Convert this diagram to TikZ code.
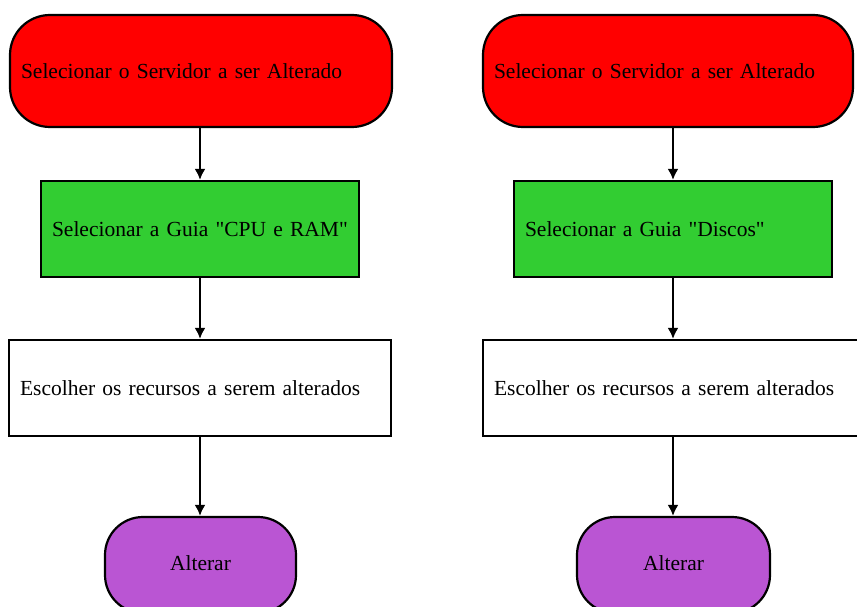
\documentclass[tikz,border=0pt]{standalone}
\usepackage{fontspec}
\newfontfamily\boxfont{Liberation Serif}
\usetikzlibrary{arrows.meta}
\definecolor{boxred}{HTML}{FF0000}
\definecolor{boxgreen}{HTML}{32CD32}
\definecolor{boxpurple}{HTML}{BA55D3}
\tikzset{
  basebox/.style={draw=black, line width=2.2pt, font=\boxfont\fontsize{21.5}{24}\selectfont, inner ysep=0pt},
  startbox/.style={basebox, fill=boxred, rounded corners=40pt, minimum height=112pt, text width=#1, align=left},
  guidebox/.style={basebox, fill=boxgreen, minimum height=96pt, text width=#1, align=left},
  choosebox/.style={basebox, fill=white, minimum height=96pt, text width=#1, align=left},
  endbox/.style={basebox, fill=boxpurple, rounded corners=38pt, minimum height=96pt, minimum width=#1, align=center},
  flow/.style={draw=black, line width=2.2pt, -{Latex[length=11pt,width=11pt]}}
}
\begin{document}
\begin{tikzpicture}[x=1pt,y=-1pt]
\useasboundingbox (0,0) rectangle (857,607);
\clip (0,0) rectangle (857,607);
% left column
\node[startbox=360pt, inner xsep=11pt] (r1) at (201,71) {Selecionar o Servidor a ser Alterado};
\node[guidebox=296pt, inner xsep=11pt] (g1) at (200,229) {\mbox{Selecionar a Guia "CPU e RAM"}};
\node[choosebox=360pt, inner xsep=11pt] (w1) at (200,388) {Escolher os recursos a serem alterados};
\node[endbox=191pt] (p1) at (200.5,565) {\raisebox{3pt}{Alterar}};
% right column
\node[startbox=348pt, inner xsep=11pt] (r2) at (668,71) {Selecionar o Servidor a ser Alterado};
\node[guidebox=296pt, inner xsep=11pt] (g2) at (673,229) {\mbox{Selecionar a Guia "Discos"}};
\node[choosebox=360pt, inner xsep=11pt] (w2) at (674,388) {Escolher os recursos a serem alterados};
\node[endbox=193pt] (p2) at (673.5,565) {\raisebox{3pt}{Alterar}};
% connectors
\draw[flow] (r1.south -| g1.north) -- (g1.north);
\draw[flow] (g1.south) -- (g1.south |- w1.north);
\draw[flow] (g1.south |- w1.south) -- (g1.south |- p1.north);
\draw[flow] (r2.south -| g2.north) -- (g2.north);
\draw[flow] (g2.south) -- (g2.south |- w2.north);
\draw[flow] (g2.south |- w2.south) -- (g2.south |- p2.north);
\end{tikzpicture}
\end{document}
